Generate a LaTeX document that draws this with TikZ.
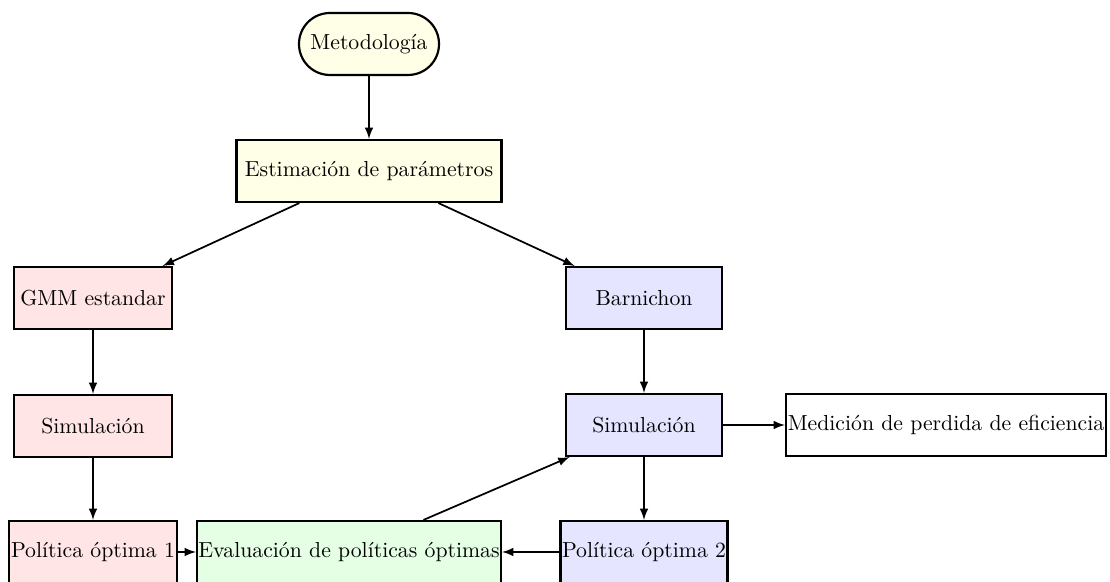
\documentclass[tikz,border=0pt]{standalone}
\usepackage{tikz}

\tikzset{
  caja/.style={draw, line width=1pt, minimum height=28.5pt, inner sep=0pt, align=center},
  inicio/.style={caja, rounded corners=14.2pt, fill=yellow!10},
  flecha/.style={-latex, thick},
}

\begin{document}
\begin{tikzpicture}[x=0.46pt,y=0.46pt,yscale=-1]
\useasboundingbox (0,0) rectangle (1110,582);

%Node: inicio
\node [inicio, minimum width=64.4pt] (meto) at (369,44) {Metodología};
%Node: estimacion
\node [caja, fill=yellow!10, minimum width=121.9pt] (est) at (369,171) {Estimación de parámetros};
%Node: rama izquierda
\node [caja, fill=red!10, minimum width=72.7pt] (gmm) at (93,298) {GMM estandar};
\node [caja, fill=red!10, minimum width=72.7pt] (simA) at (93,426) {Simulación};
\node [caja, fill=red!10, minimum width=77.3pt] (polA) at (93,552) {Política óptima 1};
%Node: rama derecha
\node [caja, fill=blue!10, minimum width=71.8pt] (barn) at (644,298) {Barnichon};
\node [caja, fill=blue!10, minimum width=71.8pt] (simB) at (644,425) {Simulación};
\node [caja, fill=blue!10, minimum width=76.8pt] (polB) at (644,552) {Política óptima 2};
%Node: evaluacion y medicion
\node [caja, fill=green!10, minimum width=139.8pt] (eval) at (349,552) {Evaluación de políticas óptimas};
\node [caja, minimum width=147.2pt] (med) at (946,425) {Medición de perdida de eficiencia};

%Arrows
\draw [flecha] (meto) -- (est);
\draw [flecha] (est) -- (gmm);
\draw [flecha] (est) -- (barn);
\draw [flecha] (gmm) -- (simA);
\draw [flecha] (simA) -- (polA);
\draw [flecha] (barn) -- (simB);
\draw [flecha] (simB) -- (polB);
\draw [flecha] (simB) -- (med);
\draw [flecha] (polA) -- (eval);
\draw [flecha] (polB) -- (eval);
\draw [flecha] (eval) -- (simB);

\end{tikzpicture}
\end{document}
